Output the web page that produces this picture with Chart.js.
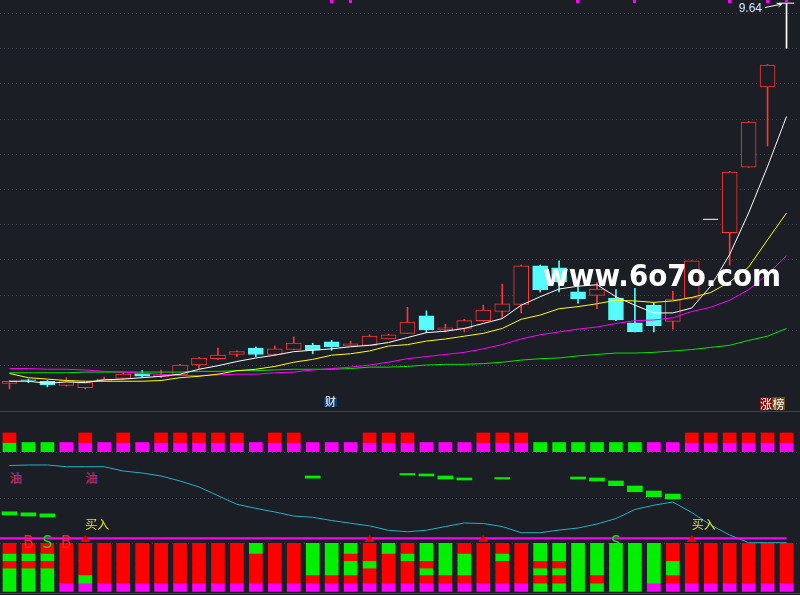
<!DOCTYPE html>
<html>
<head>
<meta charset="utf-8">
<script src="https://cdn.jsdelivr.net/npm/chart.js@4.4.1/dist/chart.umd.min.js"></script>
<style>
  html, body { margin: 0; padding: 0; background: #1b1e25; }
  #wrap { position: relative; width: 800px; height: 595px; overflow: hidden; background: #1b1e25; }
  canvas { position: absolute; left: 0; }
  #main { top: 0; }
  #lower { top: 411px; }
</style>
</head>
<body>
<div id="wrap">
  <canvas id="main" width="800" height="411"></canvas>
  <canvas id="lower" width="800" height="184"></canvas>
</div>
<script>
// ================= MAIN PANEL DATA =================
const days = ["1","2","3","4","5","6","7","8","9","10","11","12","13","14","15","16","17","18","19","20","21",
  "22","23","24","25","26","27","28","29","30","31","32","33","34","35","36","37","38","39","40","41","42"];

const opens  = [4.24,4.29,4.27,4.21,4.18,4.27,4.31,4.38,4.33,4.36,4.50,4.59,4.65,4.74,4.65,4.72,4.78,4.83,4.77,4.78,4.87,
                4.95,5.20,5.00,5.02,5.13,5.26,5.36,5.91,5.88,5.54,5.49,5.45,5.10,5.35,5.12,5.45,6.57,6.38,7.31,8.45,9.64];
const closes = [4.27,4.28,4.22,4.28,4.25,4.30,4.37,4.34,4.36,4.50,4.60,4.64,4.69,4.65,4.73,4.81,4.71,4.76,4.80,4.91,4.93,
                5.11,5.00,5.03,5.13,5.28,5.37,5.91,5.57,5.68,5.44,5.58,5.14,4.97,5.06,5.43,5.98,6.57,7.24,7.95,8.76,9.64];
const highs  = [4.28,4.30,4.28,4.32,4.25,4.33,4.39,4.42,4.43,4.51,4.61,4.74,4.70,4.76,4.77,4.90,4.81,4.85,4.84,4.93,4.94,
                5.32,5.27,5.08,5.15,5.35,5.65,5.92,5.92,5.98,5.67,5.67,5.57,5.59,5.38,5.55,5.98,6.57,7.25,7.96,8.77,9.64];
const lows   = [4.16,4.25,4.19,4.20,4.16,4.27,4.30,4.32,4.32,4.35,4.45,4.58,4.62,4.62,4.64,4.72,4.66,4.71,4.77,4.78,4.87,
                4.95,4.96,4.97,4.97,5.12,5.17,5.24,5.54,5.54,5.38,5.30,5.13,4.97,4.97,5.01,5.44,6.57,5.92,7.31,7.61,9.00];

const ma5  = [4.27,4.27,4.24,4.26,4.25,4.29,4.30,4.32,4.34,4.37,4.44,4.49,4.55,4.60,4.64,4.69,4.71,4.73,4.76,4.78,4.82,
              4.89,4.96,4.98,5.02,5.09,5.16,5.35,5.47,5.58,5.62,5.64,5.47,5.35,5.24,5.24,5.31,5.62,6.07,6.66,7.32,8.03];
const ma10 = [4.38,4.32,4.30,4.28,4.27,4.27,4.27,4.27,4.28,4.32,4.34,4.37,4.42,4.44,4.48,4.54,4.58,4.64,4.66,4.70,4.77,
              4.79,4.84,4.87,4.91,4.95,5.02,5.15,5.21,5.30,5.33,5.37,5.42,5.41,5.39,5.41,5.46,5.53,5.68,5.89,6.28,6.66];
const ma20 = [4.45,4.45,4.44,4.44,4.43,4.41,4.40,4.38,4.37,4.35,4.35,4.36,4.37,4.37,4.39,4.40,4.43,4.45,4.47,4.50,4.54,
              4.59,4.62,4.65,4.68,4.73,4.79,4.87,4.93,4.97,5.01,5.04,5.09,5.13,5.14,5.17,5.26,5.32,5.42,5.57,5.79,6.05];
const ma60 = [4.39,4.39,4.39,4.39,4.40,4.40,4.40,4.40,4.40,4.40,4.41,4.41,4.42,4.42,4.43,4.44,4.44,4.44,4.45,4.47,4.47,
              4.48,4.50,4.51,4.51,4.52,4.54,4.57,4.59,4.60,4.63,4.65,4.67,4.67,4.68,4.70,4.72,4.75,4.78,4.85,4.91,5.02];

const gridPrices = [9.5, 9.0, 8.5, 8.0, 7.5, 7.0, 6.5, 6.0, 5.5, 5.0, 4.5];
const PRICE_MIN = 3.847, PRICE_MAX = 9.685;
const topMarks = [17, 18, 30, 33, 38, 40, 41];
const caiCol = 17;
const zhangbangCol = 40;
const watermark = "www.6o7o.com";

// ================= LOWER PANEL DATA =================
const sigRed  = [1,0,0,0,1,0,1,0,1,1,1,1,1,0,1,1,0,0,0,1,1,1,0,0,0,1,1,1,0,0,0,0,0,0,0,0,1,1,1,1,1,1];
const sigBase = "GGGMMMMMMMMMMMMMMMMMMMMMMMMMGGGGGGMMMMMMMM".split("");
const SIG_RED = [110, 120.5], SIG_BASE = [100, 110];

const osc = [84.9,85.5,85.5,83.6,83.6,83.6,78.9,76.7,73.5,68.0,61.5,52.0,42.6,38.2,34.2,29.8,28.4,24.9,21.9,19.1,14.2,
             12.6,14.3,18.3,22.2,21.6,18.3,11.6,11.6,14.5,16.7,21.1,27.0,36.9,41.6,45.1,33.6,20.0,9.1,0.7,0.7,0.7];
const dashLo = [30.9,29.8,28.7,null,null,null,null,null,null,null,null,null,null,null,null,null,71.1,null,null,null,null,
                74.6,73.5,70.2,69.1,null,70.2,null,null,null,70.2,68.0,62.9,56.3,50.9,48.4,null,null,null,null,null,null];
const dashHi = [34.4,33.3,32.2,null,null,null,null,null,null,null,null,null,null,null,null,null,73.5,null,null,null,null,
                76.2,75.7,73.5,71.3,null,71.8,null,null,null,72.4,71.3,68.0,62.6,57.1,53.8,null,null,null,null,null,null];

const barLevels = [0, -11, -19, -27, -34.5, -43.5, -52.5];
const barCodes = ["RGRGGG","RGRGGG","RGRGGG","RRRRRM","RRRRGM","RRRRRM","RRRRRM","RRRRRM","RRRRRM","RRRRRM","RRRRRM",
  "RRRRRM","RRRRRM","GRRRRM","RRRRRM","RRRRRM","GGGGRM","GGGGRM","GRGGRM","RRGRRM","GRRRRM","RGRRRM","GGRGRM",
  "GGGGRM","RGGGRM","RRRRRM","RGRRRM","RRRRRM","GGRGRG","GGRGRG","GGGGGG","GGGGRG","GGGGGG","GGGGGG","GGGGGM",
  "RRGGRM","RRRRRM","RRRRRM","RRRRRM","RRRRRM","RRRRRM","RRRRRM"];

const lowGrid = [100, 50, 0];
const LOW_MIN = -56.4, LOW_MAX = 144.4;
const BUY_LEVEL = 5.5;
const oilCols = [0, 4];
const buyTextCols = [4, 36];
const buyArrowCols = [4, 19, 25, 36];
const bCols = [1, 3];
const sCols = [2, 32];

// ================= COLOURS =================
const BG = "#1b1e25";
const UP = "#ff3535", DOWN = "#54fcfc", FLAT = "#ffffff";
const BLOCK = { R: "#ff0000", G: "#00f000", M: "#ff00ff" };
const GRID = "#3c424e";

// ================= MAIN CHART =================
const candleColor = closes.map((c, i) => c > opens[i] ? UP : (c < opens[i] ? DOWN : FLAT));
const bodyData = opens.map((o, i) => o === closes[i] ? null : [o, closes[i]]);
const wickData = lows.map((l, i) => l === highs[i] ? null : [l, highs[i]]);
const dojiData = opens.map((o, i) => o === closes[i] ? closes[i] : null);

function maLine(data, color) {
  return { type: "line", data, borderColor: color, borderWidth: 1, pointRadius: 0, tension: 0, spanGaps: true, order: 1 };
}

const mainDecor = {
  id: "mainDecor",
  beforeDatasetsDraw(chart) {
    const { ctx, scales: { y } } = chart;
    ctx.save();
    ctx.strokeStyle = GRID;
    ctx.lineWidth = 1;
    ctx.setLineDash([1, 3]);
    gridPrices.forEach(p => {
      const py = Math.round(y.getPixelForValue(p)) + 0.5;
      ctx.beginPath(); ctx.moveTo(0, py); ctx.lineTo(chart.width, py); ctx.stroke();
    });
    ctx.restore();
  },
  afterDraw(chart) {
    const { ctx, scales: { x, y } } = chart;
    ctx.save();

    // watermark
    ctx.font = "bold 30px 'DejaVu Sans', sans-serif";
    const w = ctx.measureText(watermark).width;
    ctx.translate(543, 286);
    ctx.scale(238 / w, 1);
    ctx.fillStyle = "#ffffff";
    ctx.textBaseline = "alphabetic";
    ctx.fillText(watermark, 0, 0);
    ctx.setTransform(1, 0, 0, 1, 0, 0);

    // magenta marks on top edge
    ctx.fillStyle = "#ff00ff";
    topMarks.forEach(i => ctx.fillRect(Math.round(x.getPixelForValue(i)) - 2, 0, 3, 3));

    // last price label + arrow
    const last = highs.length - 1;
    const hx = x.getPixelForValue(last), hy = y.getPixelForValue(highs[last]);
    ctx.font = "12px 'Liberation Sans', Arial, sans-serif";
    ctx.fillStyle = "#d6eaff";
    ctx.textAlign = "right";
    ctx.textBaseline = "middle";
    ctx.fillText(highs[last].toFixed(2), 762, 9);
    ctx.strokeStyle = "#ffffff";
    ctx.lineWidth = 1;
    const ax = hx - 5, ay = hy + 1;
    ctx.beginPath(); ctx.moveTo(765, 7.5); ctx.lineTo(ax, ay); ctx.stroke();
    ctx.beginPath(); ctx.moveTo(ax, ay); ctx.lineTo(ax - 5, ay - 1); ctx.moveTo(ax, ay); ctx.lineTo(ax - 3, ay + 3); ctx.stroke();

    // 财 tag
    const cx = Math.round(x.getPixelForValue(caiCol)) - 8;
    ctx.fillStyle = "#0d3a6e";
    ctx.fillRect(cx, 397, 13, 10);
    ctx.font = "11px 'Noto Sans CJK SC', sans-serif";
    ctx.fillStyle = "#ffffff";
    ctx.textAlign = "center";
    ctx.fillText("财", cx + 6.5, 402);

    // 涨榜 tag
    const zx = Math.round(x.getPixelForValue(zhangbangCol)) - 8;
    ctx.fillStyle = "#7c0b0b";
    ctx.fillRect(zx, 397, 12, 13);
    ctx.fillStyle = "#744510";
    ctx.fillRect(zx + 12, 397, 13, 13);
    ctx.fillStyle = "#ffffff";
    ctx.font = "12px 'Noto Sans CJK SC', sans-serif";
    ctx.fillText("涨", zx + 6, 404);
    ctx.fillText("榜", zx + 18.5, 404);
    ctx.restore();
  }
};

new Chart(document.getElementById("main"), {
  type: "bar",
  data: {
    labels: days,
    datasets: [
      maLine(ma5, "#ffffff"),
      maLine(ma10, "#ffff00"),
      maLine(ma20, "#ff00ff"),
      maLine(ma60, "#00e600"),
      { type: "line", data: dojiData, showLine: false, pointStyle: "line", pointRadius: 7.5,
        pointBorderColor: FLAT, pointBorderWidth: 1, order: 2 },
      { type: "bar", data: bodyData, backgroundColor: candleColor.map(c => c === UP ? BG : c),
        borderColor: candleColor, borderWidth: 1, borderSkipped: false, barThickness: 15, grouped: false, order: 3 },
      { type: "bar", data: wickData, backgroundColor: candleColor, barThickness: 1, grouped: false, order: 4 }
    ]
  },
  options: {
    responsive: false,
    animation: false,
    events: [],
    devicePixelRatio: 1,
    layout: { autoPadding: false, padding: { left: 0, right: 4, top: 0, bottom: 0 } },
    plugins: { legend: { display: false }, tooltip: { enabled: false } },
    scales: {
      x: { display: false, offset: true },
      y: { display: false, min: PRICE_MIN, max: PRICE_MAX }
    }
  },
  plugins: [mainDecor]
});

// ================= LOWER CHART =================
const segDatasets = barLevels.slice(0, -1).map((top, k) => ({
  type: "bar",
  data: barCodes.map(() => [barLevels[k + 1], top]),
  backgroundColor: barCodes.map(s => BLOCK[s[k]]),
  barThickness: 13, grouped: false, order: 3
}));

const lowerDecor = {
  id: "lowerDecor",
  beforeDatasetsDraw(chart) {
    const { ctx, scales: { y } } = chart;
    ctx.save();
    ctx.strokeStyle = "#3e434d";
    ctx.lineWidth = 1;
    ctx.beginPath(); ctx.moveTo(0, 0.5); ctx.lineTo(chart.width, 0.5); ctx.stroke();
    ctx.beginPath(); ctx.moveTo(0, 182.5); ctx.lineTo(chart.width, 182.5); ctx.stroke();
    ctx.strokeStyle = GRID;
    ctx.setLineDash([1, 3]);
    lowGrid.forEach(v => {
      const py = Math.round(y.getPixelForValue(v)) + 0.5;
      ctx.beginPath(); ctx.moveTo(0, py); ctx.lineTo(chart.width, py); ctx.stroke();
    });
    ctx.restore();
  },
  afterDatasetsDraw(chart) {
    const { ctx, scales: { x, y } } = chart;
    ctx.save();
    // buy level line
    const ly = y.getPixelForValue(BUY_LEVEL);
    ctx.strokeStyle = "#ff00ff";
    ctx.lineWidth = 2;
    ctx.beginPath(); ctx.moveTo(0, ly); ctx.lineTo(x.getPixelForValue(days.length - 1), ly); ctx.stroke();

    // 油 marks
    ctx.font = "12px 'Noto Sans CJK SC', sans-serif";
    ctx.textBaseline = "middle";
    ctx.textAlign = "left";
    oilCols.forEach(i => {
      const px = x.getPixelForValue(i), py = y.getPixelForValue(70.7);
      ctx.fillStyle = "#3a48d8";
      ctx.fillText("油", px + 1, py);
      ctx.fillStyle = "#e0203c";
      ctx.fillText("油", px, py);
    });

    // 买入 text
    ctx.fillStyle = "#e8e020";
    buyTextCols.forEach(i => ctx.fillText("买入", x.getPixelForValue(i), y.getPixelForValue(21)));

    // arrows
    ctx.fillStyle = "#e80000";
    buyArrowCols.forEach(i => {
      const px = x.getPixelForValue(i);
      const top = y.getPixelForValue(9.1), base = y.getPixelForValue(1.4);
      ctx.beginPath(); ctx.moveTo(px, top); ctx.lineTo(px + 5, base); ctx.lineTo(px - 5, base); ctx.closePath(); ctx.fill();
    });

    // B / S letters
    ctx.font = "17px 'Liberation Sans Narrow', 'DejaVu Sans Condensed', sans-serif";
    ctx.textAlign = "center";
    ctx.textBaseline = "alphabetic";
    ctx.fillStyle = "#ff2020";
    bCols.forEach(i => ctx.fillText("B", x.getPixelForValue(i), y.getPixelForValue(-5.1)));
    ctx.fillStyle = "#10e010";
    sCols.forEach(i => ctx.fillText("S", x.getPixelForValue(i), y.getPixelForValue(-5.1)));
    ctx.restore();
  }
};

new Chart(document.getElementById("lower"), {
  type: "bar",
  data: {
    labels: days,
    datasets: [
      { type: "line", data: osc, borderColor: "#1fb3c6", borderWidth: 1, pointRadius: 0, tension: 0, order: 1 },
      { type: "bar", data: dashLo.map((v, i) => v === null ? null : [v, dashHi[i]]),
        backgroundColor: "#00ee00", barThickness: 15, grouped: false, order: 2 },
      { type: "bar", data: sigRed.map(s => s ? SIG_RED : null),
        backgroundColor: BLOCK.R, barThickness: 13, grouped: false, order: 2 },
      { type: "bar", data: sigBase.map(() => SIG_BASE),
        backgroundColor: sigBase.map(c => BLOCK[c]), barThickness: 13, grouped: false, order: 2 },
      ...segDatasets
    ]
  },
  options: {
    responsive: false,
    animation: false,
    events: [],
    devicePixelRatio: 1,
    layout: { autoPadding: false, padding: { left: 0, right: 4, top: 0, bottom: 0 } },
    plugins: { legend: { display: false }, tooltip: { enabled: false } },
    scales: {
      x: { display: false, offset: true },
      y: { display: false, min: LOW_MIN, max: LOW_MAX }
    }
  },
  plugins: [lowerDecor]
});
</script>
</body>
</html>
